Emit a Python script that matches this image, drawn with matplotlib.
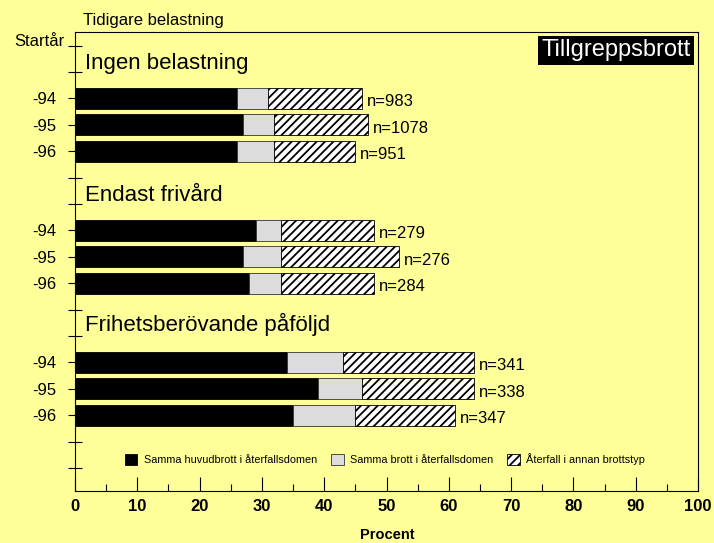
import matplotlib
matplotlib.use("Agg")
import matplotlib.pyplot as plt
from matplotlib.ticker import MultipleLocator, FixedLocator

plt.rcParams['font.family'] = ['Liberation Sans', 'DejaVu Sans']
plt.rcParams['hatch.linewidth'] = 1.3

groups = ["Ingen belastning", "Endast frivård", "Frihetsberövande påföljd"]
years = ["-94", "-95", "-96"]
same_main = [[26, 27, 26], [29, 27, 28], [34, 39, 35]]
same_crime = [[5, 5, 6], [4, 6, 5], [9, 7, 10]]
other_type = [[15, 15, 13], [15, 19, 15], [21, 18, 16]]
n_values = [[983, 1078, 951], [279, 276, 284], [341, 338, 347]]
series_labels = ["Samma huvudbrott i återfallsdomen",
                 "Samma brott i återfallsdomen",
                 "Återfall i annan brottstyp"]
title_box = "Tillgreppsbrott"
xlabel = "Procent"
top_label = "Tidigare belastning"
start_label = "Startår"

bg = "#FFFF99"
fig = plt.figure(figsize=(7.14, 5.43), dpi=100, facecolor=bg)
ax = fig.add_axes([75/714, 1-491/543, 623/714, 459/543])
ax.set_facecolor(bg)

rows, a, b, c, totals, ns, labels = [], [], [], [], [], [], []
for g in range(len(groups)):
    for k in range(len(years)):
        rows.append(2 + 5*g + k)
        a.append(same_main[g][k]); b.append(same_crime[g][k]); c.append(other_type[g][k])
        totals.append(same_main[g][k] + same_crime[g][k] + other_type[g][k])
        ns.append(n_values[g][k])
        labels.append(years[k])

h = 0.8
lw = 0.6
ax.barh(rows, a, height=h, color="black", edgecolor="black", linewidth=lw, label=series_labels[0])
ax.barh(rows, b, left=a, height=h, color="#DCDCDC", edgecolor="#333333", linewidth=lw, label=series_labels[1])
left2 = [x + y for x, y in zip(a, b)]
ax.barh(rows, c, left=left2, height=h, color="white", edgecolor="black", linewidth=lw,
        hatch="////", label=series_labels[2])

for r, t, n in zip(rows, totals, ns):
    ax.text(t + 0.8, r + 0.3, f"n={n}", fontsize=12, va="baseline", ha="left")

group_baselines = [0.88, 5.9, 10.81]
for g, name in enumerate(groups):
    ax.text(1.6, group_baselines[g], name, fontsize=16, va="baseline", ha="left")

ax.set_xlim(0, 100)
ax.set_ylim(16.87, -0.515)

ax.xaxis.set_major_locator(MultipleLocator(10))
ax.xaxis.set_minor_locator(MultipleLocator(5))
ax.tick_params(axis="x", which="major", direction="in", length=10, width=0.8, pad=6,
               labelsize=12)
ax.tick_params(axis="x", which="minor", direction="in", length=5, width=0.8)
for lab in ax.get_xticklabels():
    lab.set_fontweight("bold")

ytick_pos = list(range(17))
ylabels = [""] * 17
for r, l in zip(rows, labels):
    ylabels[r] = l
ax.yaxis.set_major_locator(FixedLocator(ytick_pos))
ax.set_yticklabels(ylabels)
ax.tick_params(axis="y", which="major", direction="inout", length=10, width=0.8, pad=8.5,
               labelsize=12)

for s in ax.spines.values():
    s.set_linewidth(0.8)

ax.text(0.988, 0.9837, title_box, transform=ax.transAxes, fontsize=17, color="white",
        ha="right", va="top",
        bbox=dict(boxstyle="square,pad=0.15", fc="black", ec="none"))

fig.text(83/714, 1-20/543, top_label, fontsize=12, ha="left", va="center")
fig.text(65/714, 1-41/543, start_label, fontsize=12, ha="right", va="center")
fig.text(387/714, 1-535/543, xlabel, fontsize=10.5, fontweight="bold", ha="center", va="center")

leg = ax.legend(loc="center", bbox_to_anchor=(0.4976, 0.0697), ncol=3, frameon=False,
                fontsize=7.8, handlelength=1.15, handleheight=1.15, handletextpad=0.6,
                columnspacing=1.3)

fig.savefig("out.png", dpi=100, facecolor=bg)
